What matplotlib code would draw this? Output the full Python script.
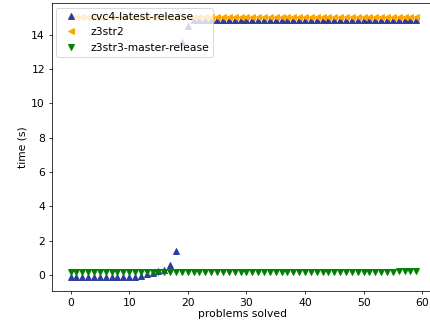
import numpy as np
import matplotlib
matplotlib.use("Agg")
import matplotlib.pyplot as plt

# problems solved (index) for each solver
x = np.arange(60)

cvc4 = [-0.1] * 12 + [-0.05, 0.05, 0.1, 0.25, 0.3, 0.6, 1.4, 13.6, 14.5] + [14.85] * 39
z3str2 = [15.05] * 60
z3str3 = [0.17] * 56 + [0.25] * 4

labels = ["cvc4-latest-release", "z3str2", "z3str3-master-release"]

plt.rcParams["font.size"] = 11.5

DPI = 67.1875
fig = plt.figure(figsize=(430 / DPI, 326 / DPI), dpi=DPI)
ax = fig.add_axes([51.5 / 430, 35 / 326, 382.4 / 430, 287.7 / 326])

ms = 6
ax.plot(x, cvc4, linestyle="none", marker="^", ms=ms, color="#2b3a9e", label=labels[0])
ax.plot(x, z3str2, linestyle="none", marker="<", ms=ms, color="orange", label=labels[1])
ax.plot(x, z3str3, linestyle="none", marker="v", ms=ms, color="green", label=labels[2])

ax.set_xlim(-3.25, 62)
ax.set_ylim(-0.93, 15.83)
ax.set_xticks([0, 10, 20, 30, 40, 50, 60])
ax.set_yticks([0, 2, 4, 6, 8, 10, 12, 14])
ax.set_xlabel("problems solved", labelpad=2)
ax.set_ylabel("time (s)")
ax.legend(loc="upper left", borderaxespad=0.4)

fig.savefig("out.png", dpi=DPI)
